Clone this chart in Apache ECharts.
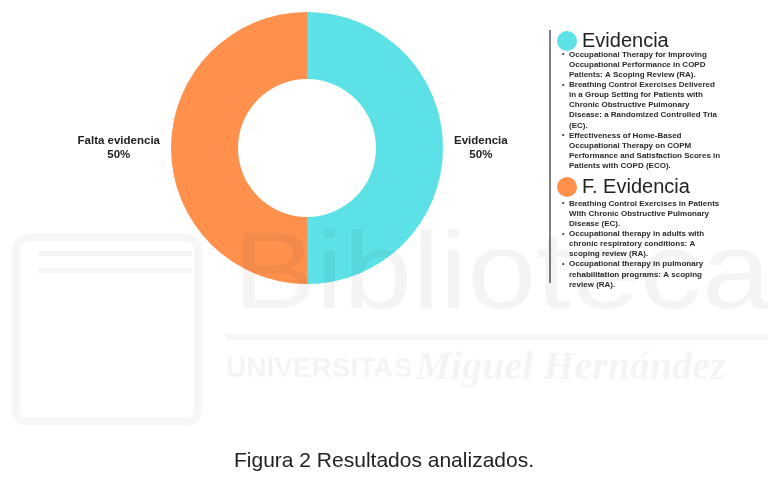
<!DOCTYPE html>
<html><head><meta charset="utf-8">
<script src="https://cdn.jsdelivr.net/npm/echarts@6/dist/echarts.min.js"></script>
<style>html,body{margin:0;padding:0;background:#fff}#c{width:768px;height:486px}</style>
</head><body><div id="c"></div>
<script>
const categories = ['Evidencia', 'Falta evidencia'];
const values = [50, 50];
const legendTitles = ['Evidencia', 'F. Evidencia'];
const colors = ['#5ce1e6', '#ff914d'];
const evidenciaItems = [
  ['Occupational Therapy for Improving', 'Occupational Performance in COPD', 'Patients: A Scoping Review (RA).'],
  ['Breathing Control Exercises Delivered', 'in a Group Setting for Patients with', 'Chronic Obstructive Pulmonary', 'Disease: a Randomized Controlled Tria', '(EC).'],
  ['Effectiveness of Home-Based', 'Occupational Therapy on COPM', 'Performance and Satisfaction Scores in', 'Patients with COPD (ECO).']
];
const faltaItems = [
  ['Breathing Control Exercises in Patients', 'With Chronic Obstructive Pulmonary', 'Disease (EC).'],
  ['Occupational therapy in adults with', 'chronic respiratory conditions: A', 'scoping review (RA).'],
  ['Occupational therapy in pulmonary', 'rehabilitation programs: A scoping', 'review (RA).']
];
const caption = 'Figura 2 Resultados analizados.';

const FONT = '"Liberation Sans", Arial, sans-serif';
const LH = 10.15;
const WM = 'rgba(0,0,0,0.045)';

function bulletGraphics(items, startY) {
  const out = [];
  let idx = 0;
  items.forEach(lines => {
    const y = startY + idx * LH;
    out.push({ type: 'text', x: 562, y: y, style: { text: '•', font: 'bold 7px ' + FONT, fill: '#333', verticalAlign: 'middle', align: 'left' } });
    out.push({ type: 'text', x: 569, y: y - LH / 2, style: { text: lines.join('\n'), font: 'bold 8px ' + FONT, lineHeight: LH, fill: '#2a2a2a', verticalAlign: 'top', align: 'left' } });
    idx += lines.length;
  });
  return out;
}

const chart = echarts.init(document.getElementById('c'), null, { renderer: 'canvas' });
const graphics = [
  { type: 'line', shape: { x1: 550, y1: 30, x2: 550, y2: 283 }, style: { stroke: '#555', lineWidth: 1.5 } },
  ...bulletGraphics(evidenciaItems, 54.3),
  ...bulletGraphics(faltaItems, 203.3),
  { type: 'text', x: 384, y: 461, style: { text: caption, font: '21px ' + FONT, fill: '#222', align: 'center', verticalAlign: 'middle' } },
  // faint library watermark
  { type: 'text', x: 233, y: 273, z: 100, silent: true, scaleY: 0.88, originX: 0, originY: 42,
    style: { text: 'Biblioteca', font: '124px ' + FONT, fill: WM, verticalAlign: 'middle', align: 'left' } },
  { type: 'rect', z: 100, silent: true, shape: { x: 226, y: 334, width: 542, height: 6 }, style: { fill: 'rgba(0,0,0,0.035)' } },
  { type: 'text', x: 226, y: 369, z: 100, silent: true, style: {
      text: '{u|UNIVERSITAS} {m|Miguel Hernández}', verticalAlign: 'middle', align: 'left',
      rich: { u: { font: 'bold 28px ' + FONT, fill: WM }, m: { font: 'bold italic 40px "Liberation Serif", serif', fill: WM } } } },
  { type: 'rect', z: 100, silent: true, shape: { x: 16, y: 238, width: 182, height: 184, r: 12 }, style: { fill: 'none', stroke: 'rgba(0,0,0,0.03)', lineWidth: 8 } },
  { type: 'rect', z: 100, silent: true, shape: { x: 38, y: 251, width: 154, height: 5 }, style: { fill: 'rgba(0,0,0,0.035)' } },
  { type: 'rect', z: 100, silent: true, shape: { x: 38, y: 268, width: 154, height: 5 }, style: { fill: 'rgba(0,0,0,0.035)' } }
];

chart.setOption({
  backgroundColor: '#fff',
  animation: false,
  legend: {
    orient: 'vertical', left: 552, top: 26, icon: 'circle', itemWidth: 20, itemHeight: 20, itemGap: 126,
    selectedMode: false,
    textStyle: { fontSize: 20, color: '#222', fontFamily: FONT },
    formatter: n => legendTitles[categories.indexOf(n)]
  },
  graphic: graphics,
  series: [{
    type: 'pie', center: [307, 148], radius: [69, 136], startAngle: 90, clockwise: true,
    avoidLabelOverlap: false, silent: true,
    data: categories.map((n, i) => ({ name: n, value: values[i], itemStyle: { color: colors[i] } })),
    label: {
      show: true, position: 'outside', distanceToLabelLine: 6,
      formatter: '{a|{b}}\n{a|{d}%}',
      rich: { a: { fontSize: 11.5, fontWeight: 'bold', color: '#222', align: 'center', lineHeight: 14, fontFamily: FONT } }
    },
    labelLine: { show: false, length: 5, length2: 0 },
    emphasis: { disabled: true }
  }]
});
</script></body></html>
